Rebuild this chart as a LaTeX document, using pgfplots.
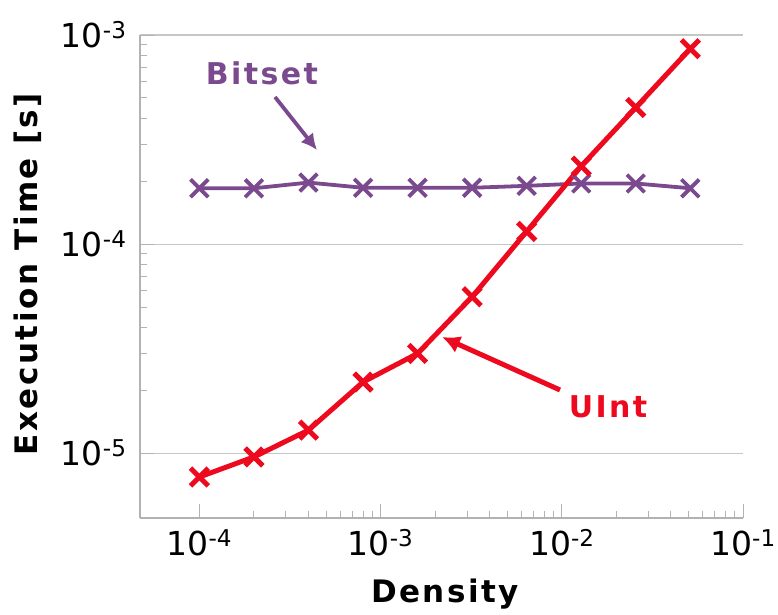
\documentclass[border=0pt]{standalone}
\usepackage{pgfplots}
\pgfplotsset{compat=1.18}
\usetikzlibrary{arrows.meta}
\usepackage{fontspec}
\setmainfont{DejaVu Sans}
\newfontfamily\labfont{DejaVu Sans}[LetterSpace=8]
\definecolor{bitset}{HTML}{7B4A8E}
\definecolor{uint}{HTML}{EE0A1E}
\begin{document}
\begin{tikzpicture}
\path[use as bounding box] (-140pt,-96pt) rectangle (638pt,518pt);
\begin{axis}[
  at={(0pt,0pt)}, anchor=south west,
  scale only axis, width=603pt, height=483pt,
  xmode=log, ymode=log,
  xmin=4.7e-5, xmax=1e-1, ymin=4.9e-6, ymax=1e-3,
  axis x line=bottom, axis y line=left,
  axis line style={draw=gray!60, line width=1.2pt, -},
  xtick={1e-4,1e-3,1e-2,1e-1},
  xticklabels={10\textsuperscript{-4},10\textsuperscript{-3},10\textsuperscript{-2},10\textsuperscript{-1}},
  ytick={1e-5,1e-4,1e-3},
  yticklabels={10\textsuperscript{-5},10\textsuperscript{-4},10\textsuperscript{-3}},
  tick label style={font=\fontsize{33}{35}\selectfont, black},
  xticklabel style={yshift=-8pt},
  yticklabel style={xshift=-10pt},
  tick align=inside,
  major tick length=14pt, minor tick length=7pt,
  every tick/.style={gray!60, line width=1pt},
  ymajorgrids, grid style={gray!45, line width=1.2pt},
  xlabel={Density},
  ylabel={Execution Time [s]},
  label style={font=\fontsize{31}{33}\selectfont\labfont\bfseries},
  xlabel style={at={(axis description cs:0.506,-0.174)}, anchor=base},
  ylabel style={at={(axis description cs:-0.1857,0.505)}, anchor=center},
  clip=false,
]
\addplot[bitset, line width=3.8pt, mark=x, mark size=12.5pt, mark options={line width=3.8pt}]
 coordinates {(1e-4,1.85e-4) (2e-4,1.85e-4) (4e-4,1.97e-4) (8e-4,1.86e-4) (1.6e-3,1.86e-4) (3.2e-3,1.86e-4) (6.4e-3,1.90e-4) (1.28e-2,1.95e-4) (2.56e-2,1.95e-4) (5.12e-2,1.85e-4)};
\addplot[uint, line width=5pt, mark=x, mark size=12.5pt, mark options={line width=5pt}]
 coordinates {(1e-4,7.7e-6) (2e-4,9.6e-6) (4e-4,1.29e-5) (8e-4,2.19e-5) (1.6e-3,3.0e-5) (3.2e-3,5.6e-5) (6.4e-3,1.15e-4) (1.28e-2,2.36e-4) (2.56e-2,4.5e-4) (5.12e-2,8.6e-4)};
\end{axis}
\node[text=bitset, font=\fontsize{30}{32}\selectfont\labfont\bfseries] at (122pt,445pt) {Bitset};
\draw[bitset, line width=3.8pt, -{Latex[length=16pt,width=16pt]}] (135pt,421pt) -- (177pt,368pt);
\node[text=uint, font=\fontsize{30}{32}\selectfont\labfont\bfseries] at (468pt,111pt) {UInt};
\draw[uint, line width=5pt, -{Latex[length=18pt,width=18pt]}] (420pt,128pt) -- (302pt,181pt);
\end{tikzpicture}
\end{document}
